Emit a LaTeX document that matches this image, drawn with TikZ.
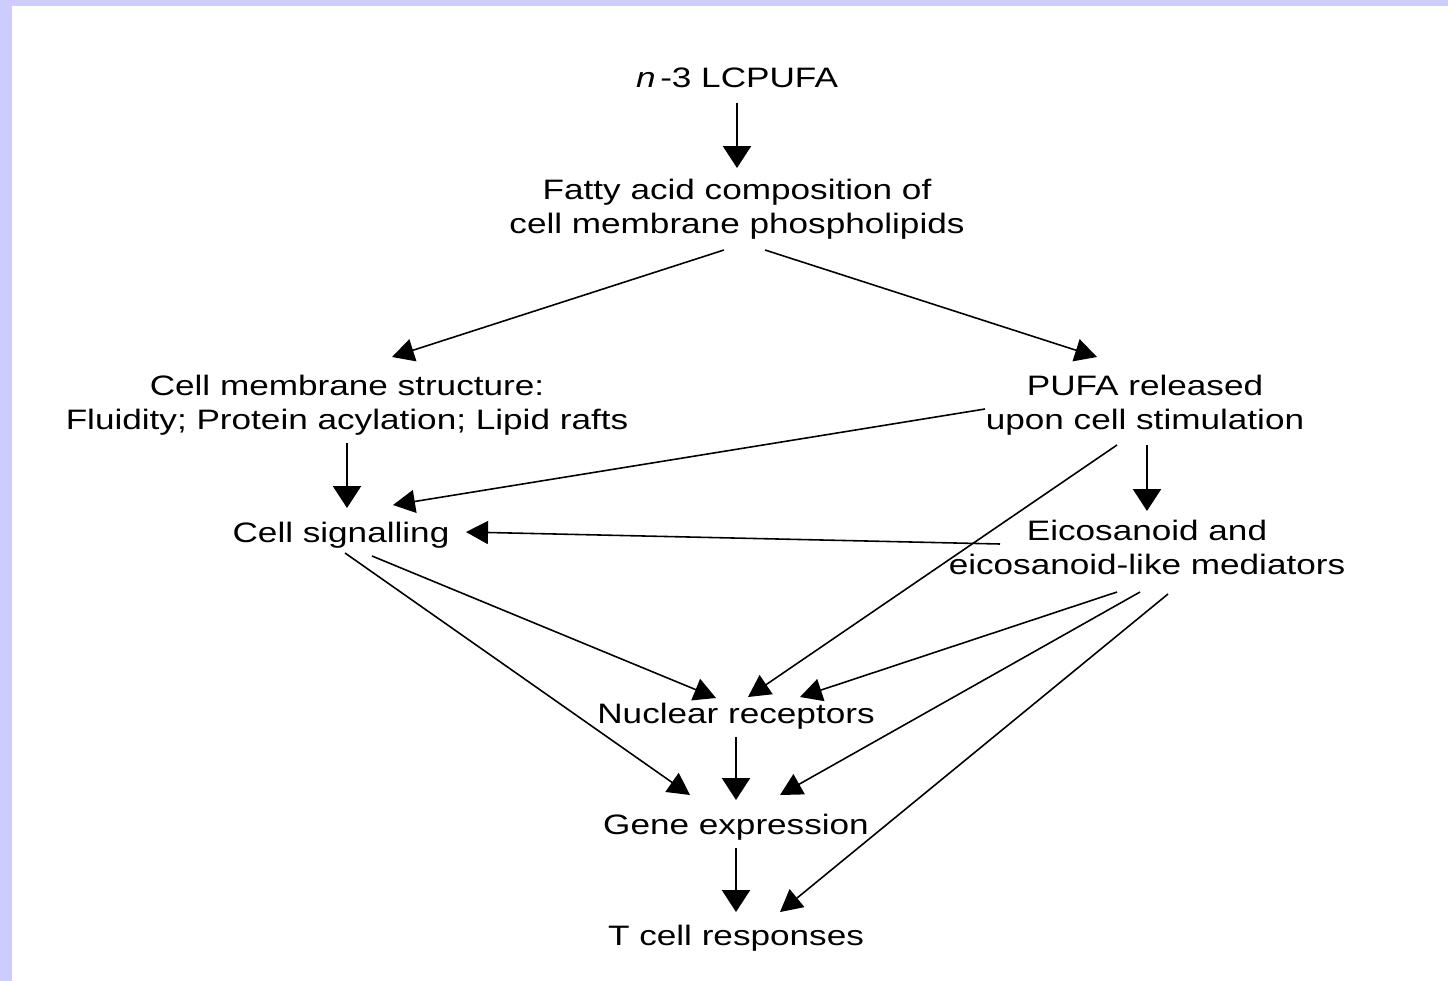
\documentclass[tikz,border=0pt]{standalone}
\usepackage{fontspec}
\setmainfont{Liberation Sans}[FakeStretch=1.25]
\usetikzlibrary{arrows.meta,calc}
\definecolor{framebg}{HTML}{CCCCFF}
\begin{document}
\begin{tikzpicture}[
  x=0.02cm, y=-0.02cm,
  txt/.style={align=center, inner sep=0pt, font=\fontsize{16}{19.4}\selectfont},
  flow/.style={-{Triangle[length=0.44cm,width=0.46cm]}, line width=0.9pt},
  vflow/.style={-{Triangle[length=0.44cm,width=0.56cm]}, line width=1.4pt}
]
% Frame
\fill[framebg] (0,0) rectangle (1448,981);
\fill[white] (12,6) rectangle (1448,981);

% Top
\node[txt] (lcpufa) at (737,78) {\textit{n}\,-3 LCPUFA};
\node[txt] (fatty) at (737,209) {Fatty acid composition of\\cell membrane phospholipids};

% Left branch
\node[txt] (cms) at (347,405) {Cell membrane structure:\\Fluidity; Protein acylation; Lipid rafts};
\node[txt] (signal) at (341,535) {Cell signalling};

% Right branch
\node[txt] (pufa) at (1145,405) {PUFA released\\upon cell stimulation};
\node[txt] (eico) at (1147,547) {Eicosanoid and\\eicosanoid-like mediators};

% Bottom
\node[txt] (nuclear) at (736,716) {Nuclear receptors};
\node[txt] (gene) at (736,827) {Gene expression};
\node[txt] (tcell) at (736,938) {T cell responses};

% Connections
\draw[vflow] ($(lcpufa)+(0,25)$) -- ($(fatty)+(0,-41)$);
\draw[flow] ($(fatty)+(-13,41)$) -- ($(cms)+(45,-48)$);
\draw[flow] ($(fatty)+(28,41)$) -- ($(pufa)+(-48,-48)$);
\draw[vflow] ($(cms)+(0,38)$) -- ($(signal)+(6,-27)$);
\draw[flow] ($(pufa)+(-160,4)$) -- ($(signal)+(52,-30)$);
\draw[vflow] ($(pufa)+(2,40)$) -- ($(eico)+(0,-36)$);
\draw[flow] ($(pufa)+(-28,40)$) -- ($(nuclear)+(12,-19)$);
\draw[flow] ($(eico)+(-147,-3)$) -- ($(signal)+(125,-3)$);
\draw[flow] ($(signal)+(4,18)$) -- ($(gene)+(-46,-32)$);
\draw[flow] ($(signal)+(31,21)$) -- ($(nuclear)+(-20,-18)$);
\draw[flow] ($(eico)+(-30,45)$) -- ($(nuclear)+(64,-19)$);
\draw[flow] ($(eico)+(-7,45)$) -- ($(gene)+(44,-32)$);
\draw[flow] ($(eico)+(21,47)$) -- ($(tcell)+(44,-26)$);
\draw[vflow] ($(nuclear)+(0,21)$) -- ($(gene)+(0,-27)$);
\draw[vflow] ($(gene)+(0,21)$) -- ($(tcell)+(0,-26)$);
\end{tikzpicture}
\end{document}
